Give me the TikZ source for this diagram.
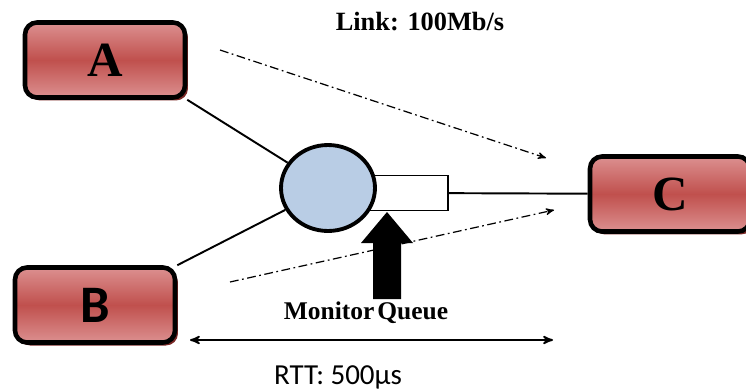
\documentclass[tikz,border=0pt]{standalone}
\usepackage{fontspec}
\setmainfont{Liberation Serif}
\newfontfamily\calib{Carlito}
\usetikzlibrary{arrows}
\usetikzlibrary{shapes}
\usetikzlibrary{shapes.geometric}
\usetikzlibrary{shadows}

\definecolor{boxlight}{HTML}{DC9090}
\definecolor{boxmid}{HTML}{C0504D}
\definecolor{boxshadow}{HTML}{7A2826}
\definecolor{hubblue}{HTML}{B9CDE5}

\begin{document}
\begin{tikzpicture}[x=0.02cm, y=-0.02cm]
\tikzset{
   >=stealth',
   host/.style = {rectangle, draw, line width = 2.6pt, rounded corners = 0.24cm,
                  minimum width = 3.2cm, minimum height = 1.5cm,
                  top color = boxlight, bottom color = boxlight, middle color = boxmid,
                  drop shadow = {shadow xshift = 0.06cm, shadow yshift = -0.06cm, fill = boxshadow, opacity = 1},
                  font = \fontsize{28}{30}\selectfont\bfseries},
   hub/.style = {ellipse, draw, line width = 2.2pt, fill = hubblue,
                 minimum width = 1.88cm, minimum height = 1.72cm},
   queue/.style = {rectangle, draw, line width = 0.7pt, fill = white,
                   minimum width = 1.56cm, minimum height = 0.7cm},
   link/.style = {line width = 1.1pt},
   flow/.style = {dash pattern = on 5pt off 2pt on 1pt off 2pt, line width = 0.7pt, ->},
   label/.style = {font = \fontsize{15}{17}\selectfont\bfseries}
}
  \useasboundingbox (0,0) rectangle (746,389);

  \node[host] (A) at (105,60) {A};
  \node[host, font = \fontsize{30}{32}\selectfont\calib\bfseries] (B) at (95,305) {B};
  \node[host] (C) at (670,194) {C};

  \node[queue] (q) at (409,193) {};
  \node[hub] (hub) at (328,188) {};

  \draw[link] (A.south east) -- (hub);
  \draw[link] (B.north east) -- (hub);
  \draw[link] (q) -- (C);

  \coordinate (flowA_start) at (220,50);
  \coordinate (flowA_end) at (546,158);
  \coordinate (flowB_start) at (230,282);
  \coordinate (flowB_end) at (554,210);
  \draw[flow] (flowA_start) -- (flowA_end);
  \draw[flow] (flowB_start) -- (flowB_end);

  % monitor arrow
  \fill (373,299) -- (373,243) -- (361,243) -- (387,212) -- (413,243) -- (401,243) -- (401,299) -- cycle;

  \node[label] (linklbl) at (420,22) {Link: 100Mb/s};
  \node[label, font = \fontsize{14.5}{17}\selectfont\bfseries] (monlbl) at (366,313) {Monitor\hspace{0.12em}Queue};

  \coordinate (rtt_left) at (190,340);
  \coordinate (rtt_right) at (553,340);
  \draw[<->, line width = 1pt] (rtt_left) -- (rtt_right);
  \node[font = \fontsize{16.5}{18}\selectfont\calib] (rttlbl) at (338,377) {RTT: 500µs};

\end{tikzpicture}
\end{document}
